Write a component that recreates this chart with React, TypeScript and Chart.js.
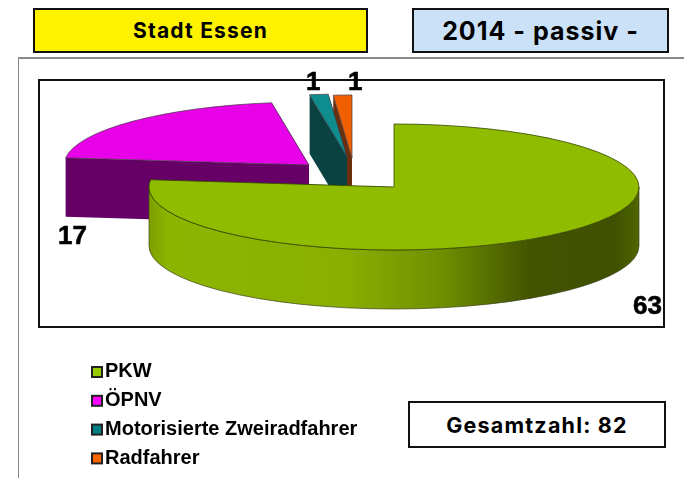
import React, { useEffect, useRef } from "react";
import { Chart, registerables } from "chart.js";

Chart.register(...registerables);

const categories = ["PKW", "ÖPNV", "Motorisierte Zweiradfahrer", "Radfahrer"];
const values = [63, 17, 1, 1];
const topColors = ["#90bc00", "#e800e8", "#0e8c8e", "#f06000"];
const sideColors = ["#3f5000", "#660066", "#0a4242", "#6b2f0e"];
const legendColors = ["#99cc00", "#ff00ff", "#008080", "#ff6600"];
const sliceShifts = [[0, 0], [-85, -22], [-47, -30], [-42, -29]];
const labelAnchors = [[633, 314], [58, 244], [306, 90], [348, 90]];
const titleLeft = "Stadt Essen";
const titleRight = "2014 - passiv -";
const totalLabel = "Gesamtzahl: 82";

const SANS = '"Liberation Sans", Arial, sans-serif';
const HEAD = 'Inter, "DejaVu Sans", sans-serif';
const CX = 394, CY = 187, RX = 245, RY = 63, DEPTH = 59;

const pie3d = {
  id: "pie3d",
  afterLayout(chart: any) {
    const l = chart.legend;
    l.left = 86; l.right = 400; l.top = 352; l.bottom = 478;
  },
  beforeDatasetsDraw(chart: any) {
    const ctx = chart.ctx;
    const arcs = chart.getDatasetMeta(0).data;
    for (let i = arcs.length - 1; i >= 0; i--) {
      const a = arcs[i];
      const t1 = a.startAngle, t2 = a.endAngle;
      const cx = CX + sliceShifts[i][0], cy = CY + sliceShifts[i][1];
      const px = (t: number) => cx + RX * Math.cos(t);
      const py = (t: number) => cy + RY * Math.sin(t);
      ctx.save();
      ctx.lineJoin = "round";
      ctx.lineWidth = 1;
      ctx.fillStyle = sideColors[i];
      for (const t of [t1, t2]) {
        ctx.beginPath();
        ctx.moveTo(cx, cy);
        ctx.lineTo(px(t), py(t));
        ctx.lineTo(px(t), py(t) + DEPTH);
        ctx.lineTo(cx, cy + DEPTH);
        ctx.closePath();
        ctx.fill();
      }
      const s = Math.max(t1, 0), e = Math.min(t2, Math.PI);
      if (e > s) {
        const g = ctx.createLinearGradient(CX - RX, 0, CX + RX, 0);
        g.addColorStop(0, "#7d9e00");
        g.addColorStop(0.04, "#8db500");
        g.addColorStop(0.4, "#8aaf00");
        g.addColorStop(0.6, "#6f8e00");
        g.addColorStop(0.78, "#425300");
        g.addColorStop(0.95, "#3f5000");
        g.addColorStop(1, "#4f6600");
        ctx.beginPath();
        ctx.ellipse(cx, cy, RX, RY, 0, s, e);
        ctx.ellipse(cx, cy + DEPTH, RX, RY, 0, e, s, true);
        ctx.closePath();
        ctx.fillStyle = g;
        ctx.fill();
        ctx.strokeStyle = "rgba(60,70,30,0.7)";
        ctx.stroke();
      }
      ctx.beginPath();
      ctx.moveTo(cx, cy);
      ctx.ellipse(cx, cy, RX, RY, 0, t1, t2);
      ctx.closePath();
      ctx.fillStyle = topColors[i];
      ctx.fill();
      ctx.strokeStyle = i === 0 ? "rgba(50,70,0,0.8)" : "rgba(70,60,70,0.7)";
      ctx.stroke();
      ctx.restore();
    }
    ctx.save();
    ctx.font = `bold 26px ${SANS}`;
    ctx.fillStyle = "#000";
    ctx.strokeStyle = "#000";
    ctx.lineWidth = 0.6;
    ctx.textBaseline = "alphabetic";
    values.forEach((v, i) => {
      ctx.fillText(String(v), labelAnchors[i][0], labelAnchors[i][1]);
      ctx.strokeText(String(v), labelAnchors[i][0], labelAnchors[i][1]);
    });
    ctx.restore();
    return false;
  },
  afterDraw(chart: any) {
    const ctx = chart.ctx;
    ctx.save();
    values.forEach((_, i) => {
      const y = 367 + i * 28.8;
      ctx.fillStyle = legendColors[i];
      ctx.fillRect(92, y, 10, 10);
      ctx.strokeStyle = "#222";
      ctx.lineWidth = 2;
      ctx.strokeRect(92, y, 10, 10);
    });
    ctx.restore();
  },
};

const box = (s: React.CSSProperties): React.CSSProperties => ({
  position: "absolute",
  boxSizing: "border-box",
  border: "2px solid #111",
  display: "flex",
  alignItems: "center",
  justifyContent: "center",
  fontFamily: HEAD,
  fontWeight: 700,
  color: "#000",
  ...s,
});

export default function App() {
  const ref = useRef<HTMLCanvasElement>(null);
  useEffect(() => {
    const chart = new Chart(ref.current as HTMLCanvasElement, {
      type: "pie",
      data: {
        labels: categories,
        datasets: [{ data: values, backgroundColor: topColors, borderColor: sideColors, borderWidth: 0 }],
      },
      options: {
        responsive: false,
        animation: false,
        layout: { padding: { left: 207, right: 103, top: 0, bottom: 104 } },
        plugins: {
          title: { display: false },
          tooltip: { enabled: false },
          legend: {
            position: "chartArea",
            align: "start",
            labels: {
              boxWidth: 0,
              padding: 9,
              color: "#000",
              font: { family: SANS, size: 20, weight: "bold" },
            },
          },
        },
      },
      plugins: [pie3d],
    } as any);
    return () => chart.destroy();
  }, []);
  return (
    <div style={{ position: "fixed", left: 0, top: 0, width: 684, height: 478, background: "#fff", overflow: "hidden" }}>
      <div style={{ position: "absolute", left: 18, top: 57, width: 666, height: 421, boxSizing: "border-box", borderLeft: "1px solid #888", borderTop: "2px solid #888" }} />
      <div style={box({ left: 33, top: 8, width: 335, height: 45, background: "#fff200", fontSize: 21, letterSpacing: 1.2 })}>{titleLeft}</div>
      <div style={box({ left: 412, top: 8, width: 257, height: 45, background: "#cbe1f8", fontSize: 25, letterSpacing: 1.0 })}>{titleRight}</div>
      <div style={{ position: "absolute", left: 38, top: 79, width: 627, height: 249, boxSizing: "border-box", border: "2px solid #111" }} />
      <div style={box({ left: 408, top: 401, width: 258, height: 47, background: "#fff", fontSize: 21.5, letterSpacing: 1.2 })}>{totalLabel}</div>
      <canvas ref={ref} width={684} height={478} style={{ position: "absolute", left: 0, top: 0, display: "block" }} />
    </div>
  );
}
